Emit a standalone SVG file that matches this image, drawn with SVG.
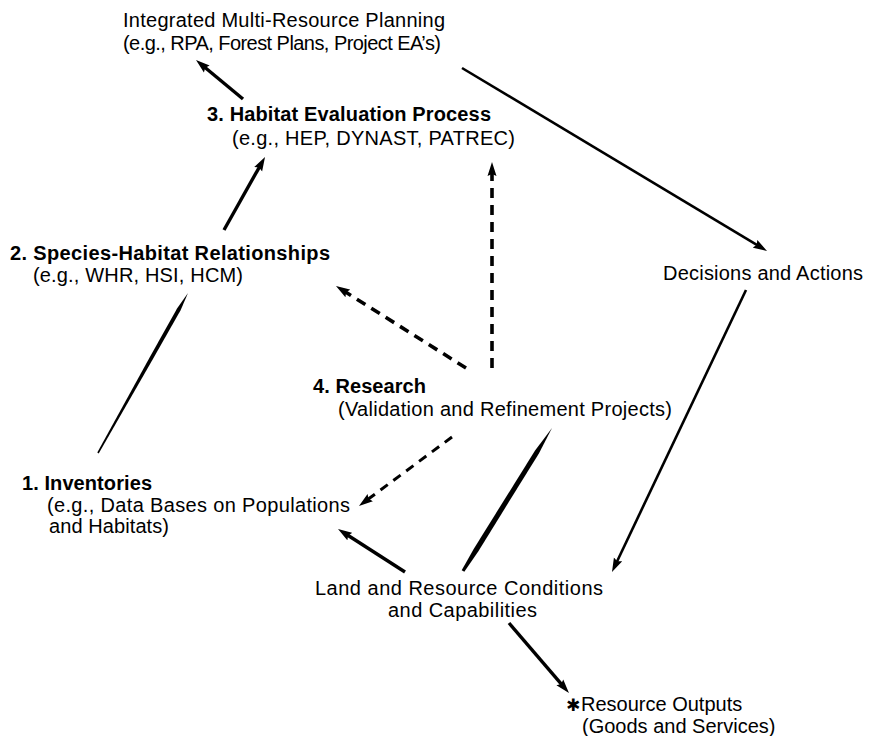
<svg xmlns="http://www.w3.org/2000/svg" width="875" height="736" viewBox="0 0 875 736">
  <style>
    text { font-family: "Liberation Sans", Arial, Helvetica, sans-serif; font-size: 20px; fill: #000; }
    .b { font-weight: bold; }
    .ln { stroke: #000; fill: none; stroke-linecap: butt; }
    .s { stroke-width: 3.4; }
    .t { stroke-width: 2.6; }
    .d { stroke-width: 3.6; stroke-dasharray: 10 7; }
    .d2 { stroke-width: 3; stroke-dasharray: 9 7; }
    .sp { fill: #000; stroke: none; }
    .star { font-family: "DejaVu Sans", sans-serif; font-size: 17px; }
  </style>
  <defs>
    <!-- narrow spear-shaped arrowhead; line ends 7px before the tip -->
    <marker id="ah" markerUnits="userSpaceOnUse" markerWidth="16" markerHeight="10" refX="7" refY="5" orient="auto">
      <path d="M0,0.5 L14,5 L0,9.5 L2,5 Z" fill="#000"/>
    </marker>
  </defs>

  <rect width="875" height="736" fill="#fff"/>

  <!-- connectors -->
  <g id="connectors">
    <!-- 3 -> planning -->
    <line class="ln s" x1="243" y1="99" x2="201.4" y2="64.5" marker-end="url(#ah)"/>
    <!-- planning -> decisions -->
    <line class="ln t" x1="462" y1="68" x2="761" y2="247.4" marker-end="url(#ah)"/>
    <!-- 2 -> 3 -->
    <line class="ln s" x1="224" y1="230" x2="261.6" y2="163.1" marker-end="url(#ah)"/>
    <!-- 1 — 2, plain tapered stroke -->
    <path class="sp" d="M98.7,453.4 L153.5,358.1 L180.6,310.3 L188,293 L177.2,308.3 L150.3,356.3 L97.3,452.6 Z"/>
    <!-- 4 -> 3 (dashed) -->
    <line class="ln d" x1="492" y1="368" x2="492" y2="169" marker-end="url(#ah)"/>
    <!-- 4 -> 2 (dashed) -->
    <line class="ln d" x1="466" y1="368" x2="341.9" y2="289.7" marker-end="url(#ah)"/>
    <!-- 4 -> 1 (dashed) -->
    <line class="ln d2" x1="452" y1="437" x2="364.6" y2="501.8" marker-end="url(#ah)"/>
    <!-- land -> 1 -->
    <line class="ln s" x1="405" y1="572" x2="343.9" y2="532.8" marker-end="url(#ah)"/>
    <!-- land — 4, heavy stroke tapering to a point at the top -->
    <path class="sp" d="M464.3,571.8 L478.4,551.2 L538.9,453.4 L552,428 L534.9,450.8 L474,548.4 L461.7,570.2 Z"/>
    <!-- decisions -> land -->
    <line class="ln t" x1="746" y1="290" x2="615" y2="565.7" marker-end="url(#ah)"/>
    <!-- land -> outputs -->
    <line class="ln s" x1="509" y1="623" x2="564.4" y2="687.7" marker-end="url(#ah)"/>
  </g>

  <g id="planning">
    <text x="123" y="27" textLength="322">Integrated Multi-Resource Planning</text>
    <text x="123" y="50" textLength="318">(e.g., RPA, Forest Plans, Project EA’s)</text>
  </g>

  <g id="habitat-evaluation">
    <text class="b" x="207" y="121" textLength="284">3. Habitat Evaluation Process</text>
    <text x="232" y="145" textLength="283">(e.g., HEP, DYNAST, PATREC)</text>
  </g>

  <g id="species-habitat">
    <text class="b" x="10" y="260" textLength="320">2. Species-Habitat Relationships</text>
    <text x="33" y="282" textLength="210">(e.g., WHR, HSI, HCM)</text>
  </g>

  <g id="decisions">
    <text x="663" y="280" textLength="200">Decisions and Actions</text>
  </g>

  <g id="research">
    <text class="b" x="313" y="393" textLength="113">4. Research</text>
    <text x="338" y="416" textLength="334">(Validation and Refinement Projects)</text>
  </g>

  <g id="inventories">
    <text class="b" x="22" y="490" textLength="130">1. Inventories</text>
    <text x="47" y="512" textLength="303">(e.g., Data Bases on Populations</text>
    <text x="49" y="533" textLength="120">and Habitats)</text>
  </g>

  <g id="land-resource">
    <text x="315" y="595" textLength="288">Land and Resource Conditions</text>
    <text x="388" y="617" textLength="149">and Capabilities</text>
  </g>

  <g id="outputs">
    <text class="star" x="566" y="711">✱</text>
    <text x="581" y="711">Resource Outputs</text>
    <text x="582" y="733">(Goods and Services)</text>
  </g>
</svg>
